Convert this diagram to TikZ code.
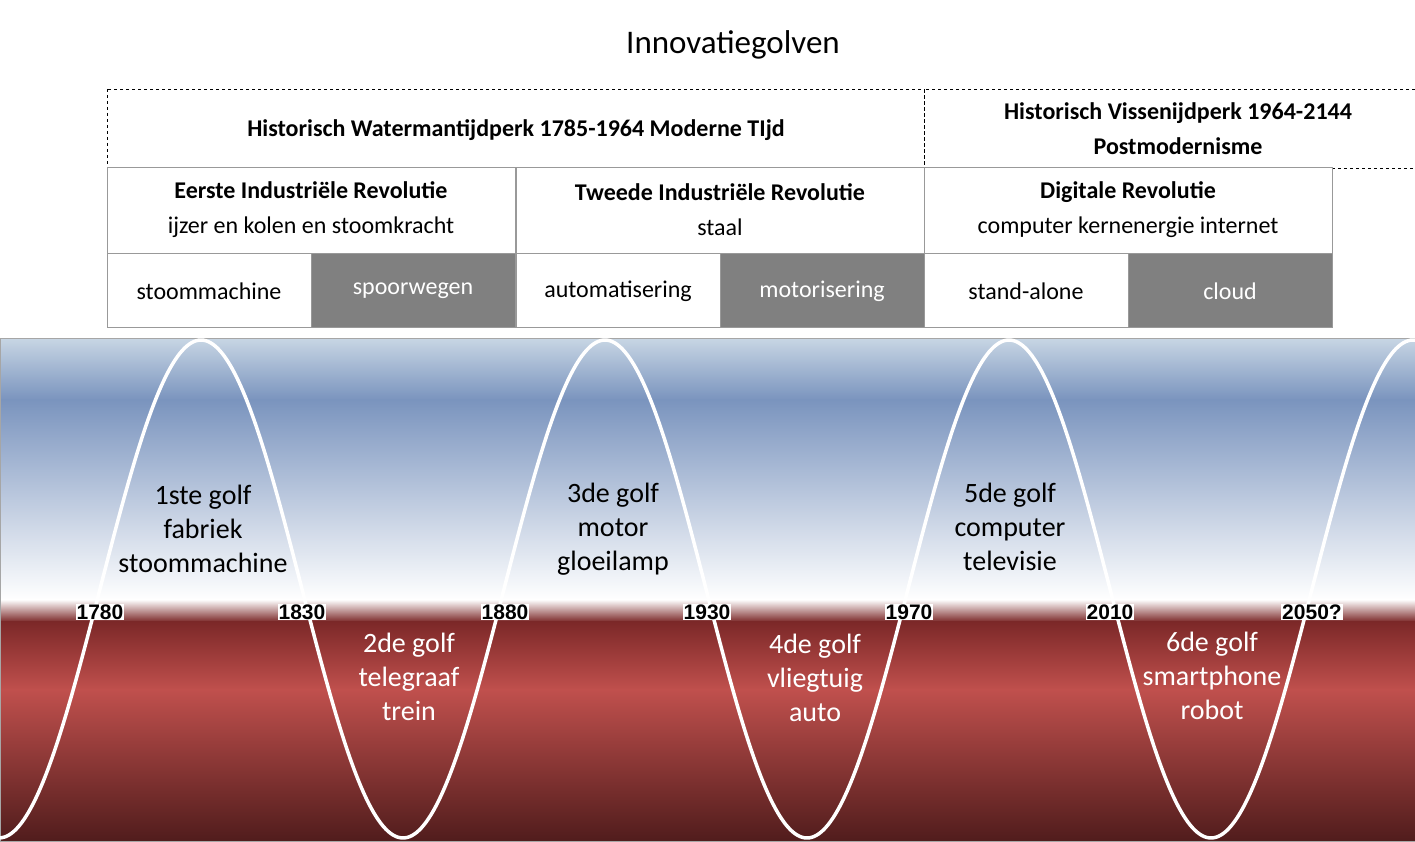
\documentclass[tikz,border=0pt]{standalone}
\usepackage{fontspec}
\setmainfont{Carlito}
\newfontfamily\yearfont{Liberation Sans}
\begin{document}
\begin{tikzpicture}[x=1pt,y=-1pt,
  dbox/.style={draw=black,dashed,line width=0.8pt},
  rbox/.style={draw=gray!80,line width=1pt,fill=white},
  gbox/.style={draw=gray!80,line width=1pt,fill=gray},
  yr/.style={fill=white,inner sep=1pt,font=\yearfont\bfseries\fontsize{21}{22}\selectfont},
  wl/.style={align=center,font=\fontsize{28}{34}\selectfont},
  bt/.style={font=\fontsize{24}{28}\selectfont}]
\useasboundingbox (0,0) rectangle (1415,842);
\fill[white] (0,0) rectangle (1415,842);
\node[font=\fontsize{33}{36}\selectfont] (title) at (733,45) {Innovatiegolven};
% dashed era boxes
\draw[dbox] (107,89) rectangle (924,168);
\node[font=\bfseries\fontsize{24}{28}\selectfont] (era1) at (516,130) {Historisch Watermantijdperk 1785-1964 Moderne TIjd};
\draw[dbox] (1415,89) -- (924,89) -- (924,168) -- (1415,168);
\node[font=\bfseries\fontsize{24}{35}\selectfont,align=center] (era2) at (1178,129) {Historisch Vissenijdperk 1964-2144\\Postmodernisme};
% revolution boxes
\foreach \x/\a/\b [count=\i] in {107/Eerste Industriële Revolutie/ijzer en kolen en stoomkracht,516/Tweede Industriële Revolutie/staal/chemie aardolie elektriciteit,924/Digitale Revolutie/computer kernenergie internet}{
  \draw[rbox] (\x,168) rectangle (\x+408,254);
  \node[align=center,font=\fontsize{24}{35}\selectfont] (rev\i) at (\x+204,210) {\textbf{\a}\\\b};
}
\foreach \x/\a/\b [count=\i] in {107/stoommachine/spoorwegen,516/automatisering/motorisering,924/stand-alone/cloud}{
  \draw[rbox] (\x,254) rectangle (\x+204,327);
  \draw[gbox] (\x+204,254) rectangle (\x+408,327);
  \node[bt] (w\i) at (\x+102,291) {\a};
  \node[bt,text=white] (g\i) at (\x+306,291) {\b};
}
% background
\shade[top color={rgb,255:red,200;green,214;blue,228},bottom color={rgb,255:red,122;green,148;blue,190}] (0,338) rectangle (1415,400);
\shade[top color={rgb,255:red,122;green,148;blue,190},bottom color=white] (0,399.5) rectangle (1415,600);
\shade[top color=white,bottom color={rgb,255:red,123;green,40;blue,40}] (0,599.5) rectangle (1415,622);
\shade[top color={rgb,255:red,123;green,40;blue,40},bottom color={rgb,255:red,192;green,80;blue,77}] (0,621.5) rectangle (1415,690);
\shade[top color={rgb,255:red,192;green,80;blue,77},bottom color={rgb,255:red,80;green,28;blue,28}] (0,689.5) rectangle (1415,842);
\draw[gray!70,line width=1pt] (0,338) rectangle (1415,841.5);
\begin{scope}
\clip (0,338) rectangle (1415,842);
\draw[white,line width=3.5pt] plot[domain=0:1415,samples=300,smooth] (\x,{589-249*cos(0.891089*(\x-201))});
\end{scope}
% years
\foreach \x/\y [count=\i] in {100/1780,302/1830,505/1880,707/1930,909/1970,1110/2010,1312/2050?}{
  \node[yr] (y\i) at (\x,612) {\y};
}
\node[wl] (g1) at (203,529) {1ste golf\\fabriek\\stoommachine};
\node[wl] (g3) at (613,529) {3de golf\\motor\\gloeilamp};
\node[wl] (g5) at (1010,527) {5de golf\\computer\\televisie};
\node[wl,text=white] (g2) at (409,677) {2de golf\\telegraaf\\trein};
\node[wl,text=white] (g4) at (815,678) {4de golf\\vliegtuig\\auto};
\node[wl,text=white] (g6) at (1212,676) {6de golf\\smartphone\\robot};
\end{tikzpicture}
\end{document}
